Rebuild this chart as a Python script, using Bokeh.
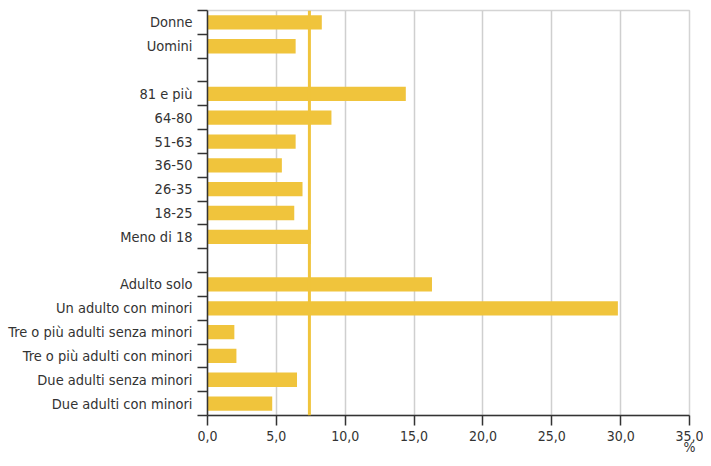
from bokeh.plotting import figure
from bokeh.models import FixedTicker, Span, ColumnDataSource, Range1d
from bokeh.embed import file_html
from bokeh.resources import INLINE

# ---- data ----
sesso_labels = ["Donne", "Uomini"]
sesso_values = [8.3, 6.4]

eta_labels = ["81 e più", "64-80", "51-63", "36-50", "26-35", "18-25", "Meno di 18"]
eta_values = [14.4, 9.0, 6.4, 5.4, 6.9, 6.3, 7.5]

famiglia_labels = ["Adulto solo", "Un adulto con minori", "Tre o più adulti senza minori",
                   "Tre o più adulti con minori", "Due adulti senza minori", "Due adulti con minori"]
famiglia_values = [16.3, 29.8, 1.95, 2.1, 6.5, 4.7]

media = 7.4
x_ticks = [0, 5, 10, 15, 20, 25, 30, 35]
x_tick_labels = ["0,0", "5,0", "10,0", "15,0", "20,0", "25,0", "30,0", "35,0"]
unit_label = "%"

FONT = "DejaVu Sans Condensed"
W, H = 703, 458
BL, BT, BR, BB = 207, 10, 14, 43

# ---- build rows (top to bottom), with a blank row between groups ----
groups = [(sesso_labels, sesso_values), (eta_labels, eta_values), (famiglia_labels, famiglia_values)]
row_labels, row_values = [], []
for gi, (labs, vals) in enumerate(groups):
    if gi > 0:
        row_labels.append("")
        row_values.append(None)
    row_labels.extend(labs)
    row_values.extend(vals)

n = len(row_labels)
ys, vs = [], []
overrides = {}
for i, (lab, v) in enumerate(zip(row_labels, row_values)):
    y = n - i - 0.5
    overrides[y] = lab
    if v is not None:
        ys.append(y)
        vs.append(v)

src = ColumnDataSource(dict(y=ys, v=vs))

p = figure(width=W, height=H, output_backend="svg", toolbar_location=None,
           x_range=Range1d(0, 35), y_range=Range1d(0, n))
p.min_border_left = BL
p.min_border_top = BT
p.min_border_right = BR
p.min_border_bottom = BB
p.background_fill_color = "white"
p.outline_line_color = "#d4d4d4"
p.outline_line_width = 1.5

p.hbar(y="y", right="v", left=0, height=0.6, source=src, color="#F0C43C", line_color=None)
p.add_layout(Span(location=media, dimension="height", line_color="#F0C43C", line_width=3))

# x axis
p.xaxis.ticker = FixedTicker(ticks=x_ticks)
p.xaxis.major_label_overrides = {t: l for t, l in zip(x_ticks, x_tick_labels)}
p.xaxis.axis_line_color = "#333333"
p.xaxis.axis_line_width = 1.5
p.xaxis.major_tick_line_color = "#333333"
p.xaxis.major_tick_line_width = 1.5
p.xaxis.major_tick_out = 10
p.xaxis.major_tick_in = 0
p.xaxis.minor_tick_line_color = None
p.xaxis.major_label_text_font = FONT
p.xaxis.major_label_text_font_size = "14px"
p.xaxis.major_label_text_color = "#333333"
p.xaxis.major_label_standoff = 5
p.xaxis.axis_label = unit_label
p.xaxis.axis_label_text_font = FONT
p.xaxis.axis_label_text_font_size = "14px"
p.xaxis.axis_label_text_font_style = "normal"
p.xaxis.axis_label_text_color = "#333333"
p.xaxis.axis_label_standoff = -5
try:
    p.xaxis.axis_label_align = "end"
except Exception:
    pass

# y axis
centers = sorted(overrides.keys())
p.yaxis.ticker = FixedTicker(ticks=centers, minor_ticks=list(range(0, n + 1)))
p.yaxis.major_label_overrides = overrides
p.yaxis.axis_line_color = "#333333"
p.yaxis.axis_line_width = 1.5
p.yaxis.major_tick_line_color = None
p.yaxis.minor_tick_line_color = "#333333"
p.yaxis.minor_tick_line_width = 1.5
p.yaxis.minor_tick_out = 10
p.yaxis.minor_tick_in = 0
p.yaxis.major_label_text_font = FONT
p.yaxis.major_label_text_font_size = "14.5px"
p.yaxis.major_label_text_color = "#333333"
p.yaxis.major_label_standoff = 5

p.xgrid.ticker = FixedTicker(ticks=x_ticks)
p.xgrid.grid_line_color = "#cfcfcf"
p.xgrid.grid_line_width = 1.5
p.ygrid.grid_line_color = None

open("out.html", "w").write(file_html(p, INLINE))
